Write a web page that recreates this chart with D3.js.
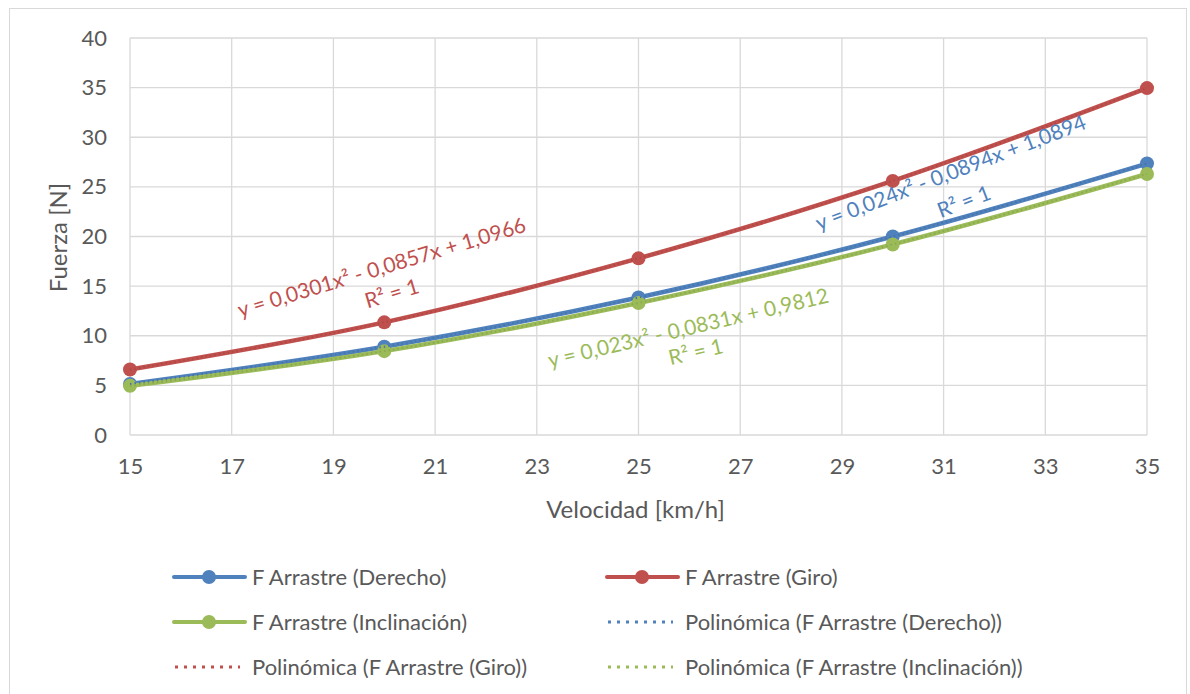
<!DOCTYPE html>
<html lang="es">
<head>
<meta charset="UTF-8">
<title>Fuerza de arrastre vs velocidad</title>
<script src="https://d3js.org/d3.v7.min.js"></script>
<style>
  body { margin: 0; background: #fff; }
  text { font-family: Lato, "Open Sans", sans-serif; fill: #595959; }
</style>
</head>
<body>
<svg id="chart" width="1190" height="694"></svg>
<script>
// data
const velocidad = [15, 20, 25, 30, 35];
const derecho = [5.15, 8.9, 13.85, 20.0, 27.35];
const giro = [6.6, 11.35, 17.8, 25.6, 34.95];
const inclinacion = [4.95, 8.45, 13.3, 19.2, 26.3];
const xTicks = [15, 17, 19, 21, 23, 25, 27, 29, 31, 33, 35];
const yTicks = [0, 5, 10, 15, 20, 25, 30, 35, 40];
const seriesNames = ["F Arrastre (Derecho)", "F Arrastre (Giro)", "F Arrastre (Inclinación)"];
const trendNames = ["Polinómica (F Arrastre (Derecho))", "Polinómica (F Arrastre (Giro))", "Polinómica (F Arrastre (Inclinación))"];
const equations = ["y = 0,024x² - 0,0894x + 1,0894", "y = 0,0301x² - 0,0857x + 1,0966", "y = 0,023x² - 0,0831x + 0,9812"];
const colors = ["#4F81BD", "#C0504D", "#9BBB59"];

const series = [derecho, giro, inclinacion].map((vals, i) => ({
  name: seriesNames[i], trend: trendNames[i], eq: equations[i], color: colors[i],
  points: velocidad.map((v, j) => ({ x: v, y: vals[j] }))
}));

// equation label anchors (data units) and rotation
const labelPos = [
  { eq: [31.19, 25.75], r2: [31.45, 22.82], angle: -20.9 },
  { eq: [19.99, 16.18], r2: [20.19, 13.55], angle: -16.7 },
  { eq: [26.01, 10.08], r2: [26.16, 7.66], angle: -13.2 }
];

const svg = d3.select("#chart");
const margin = { top: 38, right: 43, bottom: 259, left: 130 };
const width = 1190 - margin.left - margin.right;
const height = 694 - margin.top - margin.bottom;

// outer frame
svg.append("rect")
  .attr("x", 9.5).attr("y", 8.5).attr("width", 1177).attr("height", 700)
  .attr("fill", "none").attr("stroke", "#d9d9d9");

const g = svg.append("g").attr("transform", `translate(${margin.left},${margin.top})`);

const x = d3.scaleLinear().domain([15, 35]).range([0, width]);
const y = d3.scaleLinear().domain([0, 40]).range([height, 0]);

// gridlines
g.append("g").selectAll("line").data(xTicks).enter().append("line")
  .attr("x1", d => x(d)).attr("x2", d => x(d)).attr("y1", 0).attr("y2", height)
  .attr("stroke", "#d9d9d9").attr("stroke-width", 1.3);
g.append("g").selectAll("line").data(yTicks).enter().append("line")
  .attr("x1", 0).attr("x2", width).attr("y1", d => y(d)).attr("y2", d => y(d))
  .attr("stroke", "#d9d9d9").attr("stroke-width", 1.3);

// axes (labels only, lines are the grid)
const xAxis = g.append("g").attr("transform", `translate(0,${height})`)
  .call(d3.axisBottom(x).tickValues(xTicks).tickSize(0).tickPadding(23));
const yAxis = g.append("g")
  .call(d3.axisLeft(y).tickValues(yTicks).tickSize(0).tickPadding(23));
[xAxis, yAxis].forEach(a => {
  a.select(".domain").remove();
  a.selectAll("text").style("font-size", "22px").style("font-family", "Lato").attr("fill", "#595959");
});

g.append("text")
  .attr("x", width / 2 - 3).attr("y", height + 83)
  .attr("text-anchor", "middle").style("font-size", "24px")
  .text("Velocidad [km/h]");
g.append("text")
  .attr("transform", "rotate(-90)")
  .attr("x", -(y(20) + 1)).attr("y", -63)
  .attr("text-anchor", "middle").style("font-size", "24px")
  .text("Fuerza [N]");

const line = d3.line().x(d => x(d.x)).y(d => y(d.y)).curve(d3.curveCatmullRom.alpha(0.5));

// series lines and markers
series.forEach(s => {
  g.append("path").datum(s.points)
    .attr("d", line).attr("fill", "none")
    .attr("stroke", s.color).attr("stroke-width", 4.5).attr("stroke-linecap", "round");
  g.append("g").selectAll("circle").data(s.points).enter().append("circle")
    .attr("cx", d => x(d.x)).attr("cy", d => y(d.y)).attr("r", 7)
    .attr("fill", s.color);
});

// polynomial trendlines (dotted, on top)
const trend = d3.line().x(d => x(d.x)).y(d => y(d.y)).curve(d3.curveNatural);
series.forEach(s => {
  g.append("path").datum(s.points)
    .attr("d", trend).attr("fill", "none")
    .attr("stroke", d3.color(s.color).darker(0.3)).attr("stroke-width", 2)
    .attr("stroke-dasharray", "1.5 3");
});

// trendline equation labels
series.forEach((s, i) => {
  const p = labelPos[i];
  g.append("text")
    .attr("transform", `translate(${x(p.eq[0])},${y(p.eq[1])}) rotate(${p.angle})`)
    .attr("text-anchor", "middle").style("font-size", "21px")
    .style("fill", s.color).text(s.eq);
  g.append("text")
    .attr("transform", `translate(${x(p.r2[0])},${y(p.r2[1])}) rotate(${p.angle})`)
    .attr("text-anchor", "middle").style("font-size", "21px")
    .style("fill", s.color).text("R² = 1");
});

// legend
const legendItems = [
  { label: seriesNames[0], color: colors[0], type: "line" },
  { label: seriesNames[1], color: colors[1], type: "line" },
  { label: seriesNames[2], color: colors[2], type: "line" },
  { label: trendNames[0], color: colors[0], type: "dot" },
  { label: trendNames[1], color: colors[1], type: "dot" },
  { label: trendNames[2], color: colors[2], type: "dot" }
];
const colX = [174, 607];
const rowY = [577, 622, 667];
const legend = svg.append("g");
legendItems.forEach((d, i) => {
  const lx = colX[i % 2], ly = rowY[Math.floor(i / 2)];
  const item = legend.append("g").attr("transform", `translate(${lx},${ly})`);
  if (d.type === "line") {
    item.append("line").attr("x1", 0).attr("x2", 71).attr("y1", 0).attr("y2", 0)
      .attr("stroke", d.color).attr("stroke-width", 4).attr("stroke-linecap", "round");
    item.append("circle").attr("cx", 35).attr("cy", 0).attr("r", 7).attr("fill", d.color);
  } else {
    item.append("line").attr("x1", 1).attr("x2", 66).attr("y1", 0).attr("y2", 0)
      .attr("stroke", d.color).attr("stroke-width", 3)
      .attr("stroke-dasharray", "3 6");
  }
  item.append("text").attr("x", 78).attr("y", 0).attr("dy", "0.35em")
    .style("font-size", "22px").text(d.label);
});
</script>
</body>
</html>
